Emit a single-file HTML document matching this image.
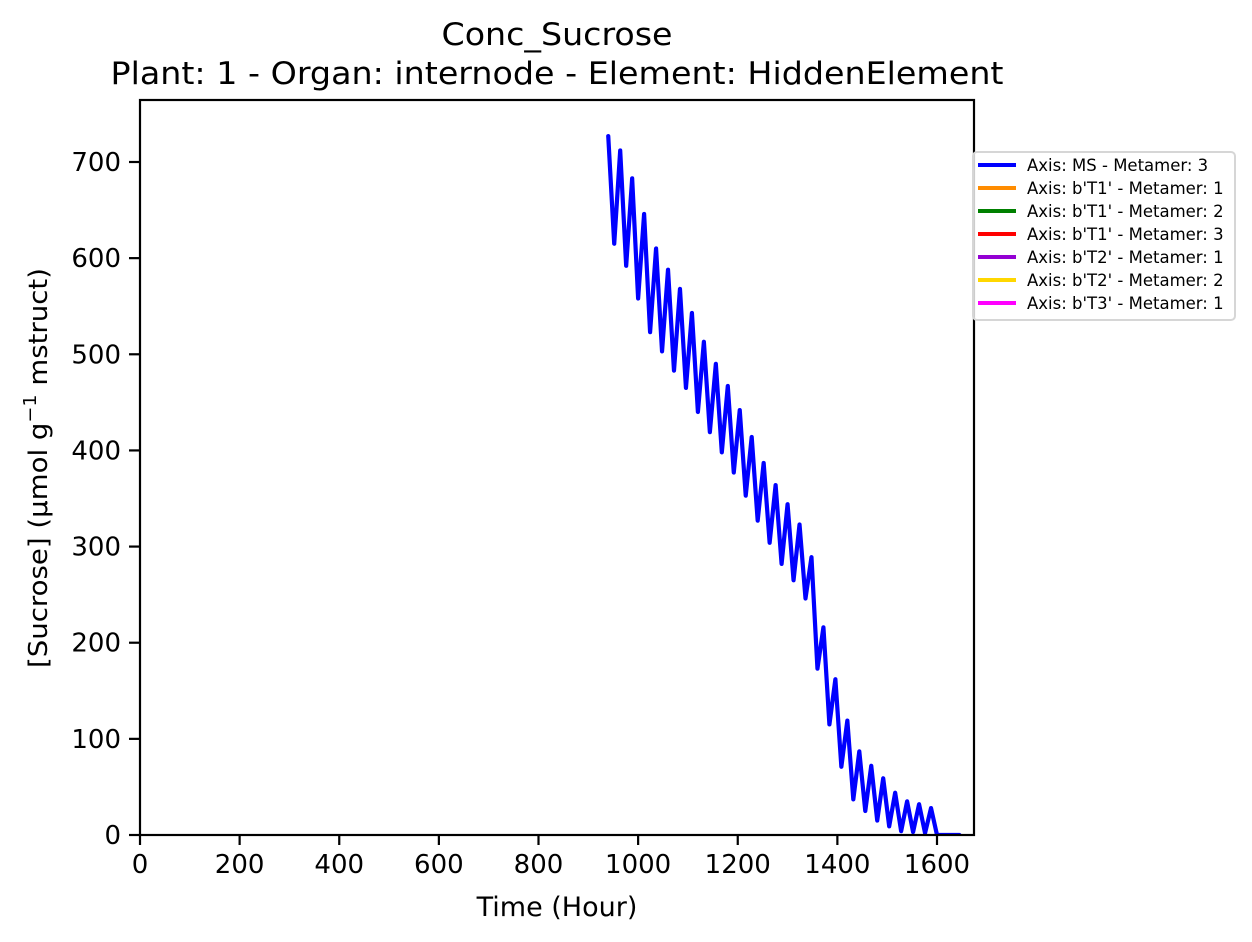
<!DOCTYPE html>
<html><head><meta charset="utf-8"><style>
html,body{margin:0;padding:0;background:#fff;}
svg{display:block;font-family:"DejaVu Sans","Liberation Sans",sans-serif;}
</style></head><body>
<svg id="chart" width="1252" height="942" viewBox="0 0 1252 942">
<text x="557" y="45" font-size="31" text-anchor="middle" textLength="231" lengthAdjust="spacingAndGlyphs">Conc_Sucrose</text>
<text x="557" y="84" font-size="31" text-anchor="middle" textLength="893" lengthAdjust="spacingAndGlyphs">Plant: 1 - Organ: internode - Element: HiddenElement</text>
<g id="ticks"></g>
<clipPath id="clip"><rect x="140" y="100" width="834" height="735"/></clipPath>
<g id="series" clip-path="url(#clip)"></g>
<rect x="140" y="100" width="834" height="735" fill="none" stroke="#000" stroke-width="2.2"/>
<text x="557" y="916" font-size="27" text-anchor="middle">Time (Hour)</text>
<text transform="translate(47,468) rotate(-90)" font-size="26" text-anchor="middle" textLength="400" lengthAdjust="spacingAndGlyphs">[Sucrose] (μmol g<tspan font-size="18" dy="-11">−1</tspan><tspan dy="11"> mstruct)</tspan></text>
<g id="legend"></g>
</svg>
<script>
const hours = [940,952,964,976,988,1000,1012,1024,1036,1048,1060,1072,1084,1096,1108,1120,1132,1144,1156,1168,1180,1192,1204,1216,1228,1240,1252,1264,1276,1288,1300,1312,1324,1336,1348,1360,1372,1384,1396,1408,1420,1432,1444,1456,1468,1480,1492,1504,1516,1528,1540,1552,1564,1576,1588,1600,1645];
const sucrose = [727,615,712,592,683,558,646,523,610,503,588,483,568,465,543,440,513,419,490,398,467,377,442,353,414,327,387,304,364,282,344,265,323,246,289,173,216,115,162,71,119,37,87,25,72,15,59,9,44,4,35,3,32,2,28,0,0];
const xTicks = [0,200,400,600,800,1000,1200,1400,1600];
const yTicks = [0,100,200,300,400,500,600,700];
const legendLabels = ["Axis: MS - Metamer: 3","Axis: b'T1' - Metamer: 1","Axis: b'T1' - Metamer: 2","Axis: b'T1' - Metamer: 3","Axis: b'T2' - Metamer: 1","Axis: b'T2' - Metamer: 2","Axis: b'T3' - Metamer: 1"];
const legendColors = ["#0000ff","#ff8c00","#008000","#ff0000","#9400d3","#ffd700","#ff00ff"];

const NS="http://www.w3.org/2000/svg";
const X = v => 140 + v*(797/1600);
const Y = v => 835 - v*(673/700);
function mk(tag, attrs, parent){const e=document.createElementNS(NS,tag);for(const k in attrs)e.setAttribute(k,attrs[k]);parent.appendChild(e);return e;}
const tg=document.getElementById('ticks');
xTicks.forEach(t=>{
  const l=mk('line',{x1:X(t),x2:X(t),y1:835,y2:845,stroke:'#000','stroke-width':2.2},tg);
  
  
  const s=mk('text',{x:X(t),y:873,'font-size':26,'text-anchor':'middle'},tg);
  s.textContent=t;
  
  
});
yTicks.forEach(t=>{
  const l=mk('line',{x1:129,x2:140,y1:Y(t),y2:Y(t),stroke:'#000','stroke-width':2.2},tg);
  
  
  const s=mk('text',{x:121,y:Y(t)+9,'font-size':26,'text-anchor':'end'},tg);
  s.textContent=t;
  
  
});
const sg=document.getElementById('series');
const p=mk('polyline',{points:hours.map((h,i)=>X(h)+','+Y(sucrose[i])).join(' '),fill:'none',stroke:'#0000ff','stroke-width':4.2,'stroke-linejoin':'round','stroke-linecap':'round'},sg);


const lg=document.getElementById('legend');
const box=mk('rect',{x:973,y:152,width:262,height:168,rx:4,fill:'#fff','fill-opacity':0.8,stroke:'#d6d6d6','stroke-width':2},lg);


legendLabels.forEach((lab,i)=>{
  const y=165+i*23;
  const l=mk('line',{x1:978,x2:1016,y1:y,y2:y,stroke:legendColors[i],'stroke-width':4},lg);
  
  
  const t=mk('text',{x:1027,y:y+6,'font-size':16.5},lg);
  t.textContent=lab;
  
  
});
</script>
</body></html>
